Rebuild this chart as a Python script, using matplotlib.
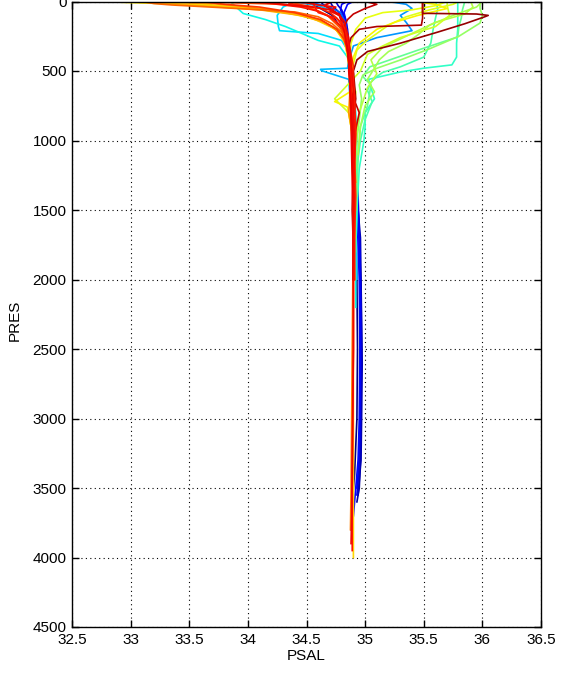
import matplotlib
matplotlib.use("Agg")
import matplotlib.pyplot as plt
from matplotlib.ticker import FormatStrFormatter

# salinity profiles (pressure in dbar, PSAL) and their colour index on the jet scale
pres01 = [0, 40, 100, 200, 300, 500, 800, 1100, 1500, 2000, 2500, 3000, 3400, 3600, 3800]
sal01 = [34.5, 34.6, 34.72, 34.8, 34.84, 34.87, 34.89, 34.9, 34.92, 34.93, 34.935, 34.93, 34.91, 34.89, 34.88]
col01 = 0.0

pres02 = [0, 20, 50, 100, 150, 200, 300, 400, 500, 700, 900, 1200, 1500, 1800, 2100, 2500, 2900, 3300, 3500, 3600]
sal02 = [34.62, 34.64, 34.7, 34.78, 34.82, 34.84, 34.86, 34.87, 34.88, 34.9, 34.91, 34.92, 34.94, 34.955, 34.965, 34.97, 34.965, 34.96, 34.95, 34.93]
col02 = 0.03

pres30 = [0, 30, 80, 150, 250, 400, 600, 900, 1200, 1500, 1700, 2000, 2300, 2600, 3000, 3300, 3450, 3550]
sal30 = [34.7, 34.72, 34.78, 34.82, 34.85, 34.87, 34.89, 34.9, 34.92, 34.94, 34.96, 34.965, 34.97, 34.975, 34.97, 34.965, 34.95, 34.94]
col30 = 0.05

pres03 = [0, 30, 60, 120, 200, 300, 450, 600, 800, 1000, 1300, 1600, 2000, 2400, 2800, 3200, 3400, 3550]
sal03 = [34.75, 34.77, 34.8, 34.83, 34.85, 34.86, 34.88, 34.9, 34.9, 34.92, 34.93, 34.945, 34.96, 34.965, 34.96, 34.955, 34.945, 34.93]
col03 = 0.08

pres31 = [0, 20, 60, 120, 200, 350, 500, 800, 1100, 1400, 1800, 2200, 2700, 3100, 3400, 3500]
sal31 = [34.85, 34.8, 34.79, 34.82, 34.84, 34.86, 34.88, 34.9, 34.92, 34.94, 34.955, 34.96, 34.96, 34.955, 34.94, 34.93]
col31 = 0.1

pres04 = [0, 20, 80, 150, 250, 400, 600, 900, 1200, 1500, 2000, 2500, 3000, 3300, 3500, 3700]
sal04 = [34.9, 34.85, 34.82, 34.84, 34.85, 34.87, 34.89, 34.9, 34.91, 34.93, 34.95, 34.955, 34.95, 34.94, 34.92, 34.9]
col04 = 0.13

pres05 = [0, 15, 40, 80, 150, 250, 350, 500, 700, 900, 1200, 1500]
sal05 = [34.55, 34.58, 34.7, 34.79, 34.83, 34.85, 34.86, 34.88, 34.9, 34.9, 34.92, 34.93]
col05 = 0.22

pres06 = [0, 20, 50, 100, 150, 210, 260, 320, 400, 500, 700, 900, 1200]
sal06 = [35.2, 35.35, 35.4, 35.3, 35.35, 35.4, 35.1, 34.9, 34.87, 34.88, 34.9, 34.91, 34.92]
col06 = 0.27

pres07 = [0, 10, 30, 60, 100, 200, 300, 420, 480, 488, 498, 560, 800, 1000, 1300, 1600, 2000]
sal07 = [34.3, 34.45, 34.6, 34.7, 34.78, 34.83, 34.85, 34.86, 34.85, 34.62, 34.63, 34.86, 34.88, 34.9, 34.91, 34.92, 34.93]
col07 = 0.31

pres08 = [0, 40, 100, 180, 210, 230, 280, 350, 500, 800, 1100, 1400]
sal08 = [34.4, 34.3, 34.25, 34.26, 34.27, 34.6, 34.8, 34.85, 34.87, 34.9, 34.92, 34.93]
col08 = 0.34

pres09 = [0, 40, 86, 130, 180, 226, 280, 320, 400, 500, 650, 800, 1000, 1200, 1500, 1800, 2200]
sal09 = [33.85, 33.9, 33.96, 34.15, 34.32, 34.45, 34.6, 34.78, 34.85, 34.88, 34.9, 34.92, 34.93, 34.92, 34.93, 34.92, 34.92]
col09 = 0.37

pres10 = [0, 100, 200, 300, 400, 456, 480, 507, 560, 620, 700, 800, 900, 1000, 1200, 1500, 1800]
sal10 = [35.79, 35.79, 35.79, 35.78, 35.78, 35.74, 35.5, 35.3, 35.03, 35.05, 35.08, 35.0, 35.0, 34.99, 34.95, 34.93, 34.92]
col10 = 0.41

pres38 = [0, 50, 120, 200, 300, 400, 470, 510, 540, 580, 640, 720, 850, 1000, 1200]
sal38 = [35.6, 35.62, 35.6, 35.58, 35.56, 35.5, 35.3, 35.15, 35.1, 35.05, 35.02, 35.06, 35.0, 34.96, 34.93]
col38 = 0.44

pres11 = [0, 60, 120, 180, 255, 350, 470, 540, 600, 750, 900, 1100, 1400]
sal11 = [35.85, 35.83, 35.82, 35.8, 35.79, 35.45, 35.04, 34.98, 35.05, 35.02, 34.96, 34.94, 34.93]
col11 = 0.47

pres12 = [0, 50, 100, 155, 250, 340, 421, 480, 530, 600, 700, 850, 1000, 1200, 1500]
sal12 = [35.98, 35.98, 36.0, 35.98, 35.8, 35.55, 35.3, 35.1, 34.98, 34.95, 34.97, 34.95, 34.93, 34.92, 34.92]
col12 = 0.53

pres36 = [0, 40, 100, 170, 240, 300, 360, 420, 480, 560, 650, 750, 900, 1100]
sal36 = [36.0, 35.95, 35.75, 35.55, 35.45, 35.35, 35.2, 35.12, 35.08, 35.02, 35.08, 35.0, 34.96, 34.94]
col36 = 0.55

pres13 = [0, 40, 90, 150, 250, 330, 420, 520, 620, 800, 1000]
sal13 = [35.9, 35.92, 35.85, 35.6, 35.35, 35.15, 35.05, 35.1, 35.02, 34.95, 34.92]
col13 = 0.57

pres14 = [0, 30, 100, 180, 260, 320, 380, 500, 600, 700, 800, 1000, 1300]
sal14 = [35.7, 35.7, 35.72, 35.6, 35.3, 35.15, 35.02, 34.96, 34.85, 34.74, 34.86, 34.9, 34.91]
col14 = 0.6

pres37 = [0, 20, 60, 110, 170, 230, 290, 350, 450, 550, 650, 800, 1000]
sal37 = [35.8, 35.75, 35.55, 35.35, 35.2, 35.1, 35.0, 34.93, 34.9, 34.88, 34.92, 34.9, 34.91]
col37 = 0.62

pres15 = [0, 30, 60, 80, 120, 200, 300, 400, 550, 700, 900, 1200]
sal15 = [35.7, 35.6, 35.4, 35.15, 35.0, 34.92, 34.88, 34.87, 34.9, 34.88, 34.9, 34.91]
col15 = 0.63

pres16 = [0, 20, 50, 100, 150, 200, 300, 400, 500, 650, 720, 760, 900, 1100, 1400, 1700]
sal16 = [35.4, 35.6, 35.7, 35.45, 35.25, 35.1, 34.95, 34.9, 34.88, 34.87, 34.74, 34.85, 34.88, 34.9, 34.91, 34.91]
col16 = 0.65

pres17 = [0, 8, 20, 45, 90, 140, 200, 280, 380, 500, 700, 1000, 1300, 1700]
sal17 = [32.75, 33.0, 33.5, 34.0, 34.4, 34.62, 34.75, 34.82, 34.85, 34.87, 34.89, 34.9, 34.9, 34.91]
col17 = 0.66

pres18 = [0, 25, 60, 120, 200, 300, 450, 700, 1000, 1500, 2000, 2600, 3200, 3700, 4000]
sal18 = [33.4, 33.7, 34.2, 34.55, 34.75, 34.83, 34.86, 34.88, 34.89, 34.9, 34.9, 34.9, 34.9, 34.9, 34.9]
col18 = 0.68

pres19 = [0, 10, 30, 60, 100, 150, 220, 300, 400, 600, 900, 1200, 1600, 2000]
sal19 = [32.9, 33.2, 33.6, 34.1, 34.45, 34.65, 34.78, 34.83, 34.86, 34.88, 34.89, 34.9, 34.9, 34.91]
col19 = 0.72

pres35 = [0, 5, 15, 35, 60, 90, 130, 180, 240, 320, 420, 520, 650, 800, 1000, 1300]
sal35 = [32.95, 33.3, 33.7, 33.95, 34.2, 34.45, 34.6, 34.72, 34.8, 34.84, 34.86, 34.9, 34.87, 34.86, 34.9, 34.92]
col35 = 0.75

pres20 = [0, 10, 50, 100, 180, 260, 400, 600, 900, 1200, 1600, 2000, 2500, 3000, 3500, 3800]
sal20 = [34.3, 34.4, 34.55, 34.68, 34.78, 34.84, 34.86, 34.88, 34.89, 34.9, 34.9, 34.895, 34.89, 34.885, 34.88, 34.875]
col20 = 0.77

pres21 = [0, 15, 25, 50, 75, 110, 160, 220, 280, 350, 450, 600, 800, 1000, 1300, 1600, 2000]
sal21 = [33.1, 33.2, 33.35, 33.9, 34.4, 34.6, 34.72, 34.8, 34.83, 34.85, 34.86, 34.88, 34.89, 34.9, 34.9, 34.91, 34.91]
col21 = 0.8

pres34 = [0, 10, 20, 40, 70, 100, 150, 200, 300, 420, 550, 700, 900, 1100, 1400, 1700, 2000]
sal34 = [33.5, 33.9, 34.3, 34.5, 34.6, 34.68, 34.74, 34.8, 34.84, 34.86, 34.87, 34.88, 34.89, 34.9, 34.9, 34.9, 34.9]
col34 = 0.83

pres22 = [0, 20, 40, 80, 130, 200, 270, 350, 500, 700, 1000, 1400, 1800, 2000]
sal22 = [33.6, 33.8, 34.1, 34.4, 34.62, 34.76, 34.82, 34.85, 34.87, 34.88, 34.89, 34.9, 34.9, 34.9]
col22 = 0.85

# dark red profiles: warm salty surface water on the right
pres29 = [0, 40, 85, 90, 100, 110, 160, 220, 300, 360, 420, 500, 700, 900, 1200, 1500, 1800, 2000]
sal29 = [35.49, 35.49, 35.49, 35.95, 36.05, 36.02, 35.85, 35.62, 35.3, 35.02, 34.93, 34.9, 34.92, 34.89, 34.9, 34.89, 34.9, 34.9]
col29 = 0.98

pres27 = [0, 5, 120, 170, 180, 200, 260, 350, 500, 700, 1000, 1400, 1800]
sal27 = [34.55, 35.49, 35.49, 35.48, 35.1, 34.95, 34.88, 34.85, 34.87, 34.89, 34.9, 34.9, 34.9]
col27 = 0.96

pres23 = [0, 20, 50, 90, 130, 180, 240, 300, 400, 500, 650, 800, 1000, 1300, 1600, 2000]
sal23 = [35.0, 35.1, 35.0, 34.9, 34.85, 34.82, 34.83, 34.84, 34.86, 34.87, 34.88, 34.95, 34.9, 34.91, 34.9, 34.9]
col23 = 0.94

pres33 = [0, 15, 30, 50, 80, 120, 170, 230, 300, 380, 470, 560, 680, 800, 950, 1150, 1400, 1700, 2000]
sal33 = [34.4, 34.35, 34.5, 34.62, 34.7, 34.76, 34.8, 34.83, 34.86, 34.88, 34.9, 34.89, 34.91, 34.9, 34.92, 34.91, 34.92, 34.91, 34.91]
col33 = 0.87

pres24 = [0, 15, 40, 70, 120, 180, 250, 320, 420, 550, 800, 1100, 1500, 2000, 2500, 3000, 3500, 3950]
sal24 = [34.0, 34.2, 34.45, 34.6, 34.72, 34.8, 34.84, 34.86, 34.87, 34.88, 34.89, 34.9, 34.9, 34.9, 34.9, 34.895, 34.89, 34.89]
col24 = 0.89

pres25 = [0, 20, 40, 60, 90, 130, 200, 300, 400, 600, 900, 1300, 1800]
sal25 = [34.1, 34.3, 34.55, 34.7, 34.78, 34.8, 34.82, 34.84, 34.86, 34.87, 34.88, 34.89, 34.9]
col25 = 0.9

pres26 = [0, 10, 30, 60, 100, 150, 200, 260, 330, 420, 500, 600, 750, 900, 1100, 1400, 1700, 2000]
sal26 = [34.6, 34.7, 34.65, 34.72, 34.78, 34.8, 34.82, 34.84, 34.85, 34.86, 34.86, 34.87, 34.88, 34.89, 34.89, 34.9, 34.9, 34.9]
col26 = 0.91

pres28 = [0, 5, 40, 80, 120, 150, 200, 280, 350, 450, 550, 700, 900, 1200, 1500, 1900]
sal28 = [34.55, 34.56, 34.57, 34.6, 34.75, 34.8, 34.83, 34.85, 34.87, 34.88, 34.9, 34.91, 34.92, 34.91, 34.9, 34.9]
col28 = 0.88

pres32 = [0, 10, 25, 40, 70, 100, 140, 200, 260, 350, 450, 550, 650, 800, 1000, 1200, 1500, 1800, 2100, 2500, 2900, 3300, 3700, 3900]
sal32 = [34.2, 34.5, 34.6, 34.75, 34.7, 34.78, 34.82, 34.84, 34.86, 34.87, 34.88, 34.89, 34.9, 34.9, 34.91, 34.905, 34.9, 34.9, 34.9, 34.9, 34.895, 34.89, 34.885, 34.88]
col32 = 0.9

profiles = [
    (pres01, sal01, col01), (pres02, sal02, col02), (pres30, sal30, col30),
    (pres03, sal03, col03), (pres31, sal31, col31), (pres04, sal04, col04),
    (pres05, sal05, col05), (pres06, sal06, col06), (pres07, sal07, col07),
    (pres08, sal08, col08), (pres09, sal09, col09), (pres10, sal10, col10),
    (pres38, sal38, col38), (pres11, sal11, col11), (pres12, sal12, col12),
    (pres36, sal36, col36), (pres13, sal13, col13), (pres14, sal14, col14),
    (pres37, sal37, col37), (pres15, sal15, col15), (pres16, sal16, col16),
    (pres17, sal17, col17), (pres18, sal18, col18), (pres19, sal19, col19),
    (pres35, sal35, col35), (pres20, sal20, col20), (pres21, sal21, col21),
    (pres34, sal34, col34), (pres22, sal22, col22), (pres29, sal29, col29),
    (pres27, sal27, col27), (pres23, sal23, col23), (pres33, sal33, col33),
    (pres24, sal24, col24), (pres25, sal25, col25), (pres26, sal26, col26),
    (pres28, sal28, col28), (pres32, sal32, col32),
]

x_ticks = [32.5, 33, 33.5, 34, 34.5, 35, 35.5, 36, 36.5]
y_ticks = [0, 500, 1000, 1500, 2000, 2500, 3000, 3500, 4000, 4500]

plt.rcParams['font.family'] = ['Liberation Sans', 'DejaVu Sans']
plt.rcParams['font.size'] = 11

fig = plt.figure(figsize=(5.77, 6.78), dpi=100)
ax = fig.add_axes([72 / 577, 51 / 678, 469 / 577, 625.5 / 678])

cmap = plt.cm.jet
for pres, sal, c in profiles:
    ax.plot(sal, pres, color=cmap(c), linewidth=1.2)

ax.set_xlim(32.5, 36.5)
ax.set_ylim(4500, 0)
ax.set_xticks(x_ticks)
ax.set_yticks(y_ticks)
ax.xaxis.set_major_formatter(FormatStrFormatter('%g'))
ax.tick_params(direction='in', length=5, width=1, top=True, right=True, pad=4, colors='k')
ax.grid(True, color='k', linestyle=(0, (1, 3)), linewidth=0.8)
for sp in ax.spines.values():
    sp.set_linewidth(1.0)

ax.set_xlabel('PSAL', labelpad=2)
ax.set_ylabel('PRES')
ax.yaxis.set_label_coords(-0.107, 0.49)

fig.savefig('out.png', dpi=100)
